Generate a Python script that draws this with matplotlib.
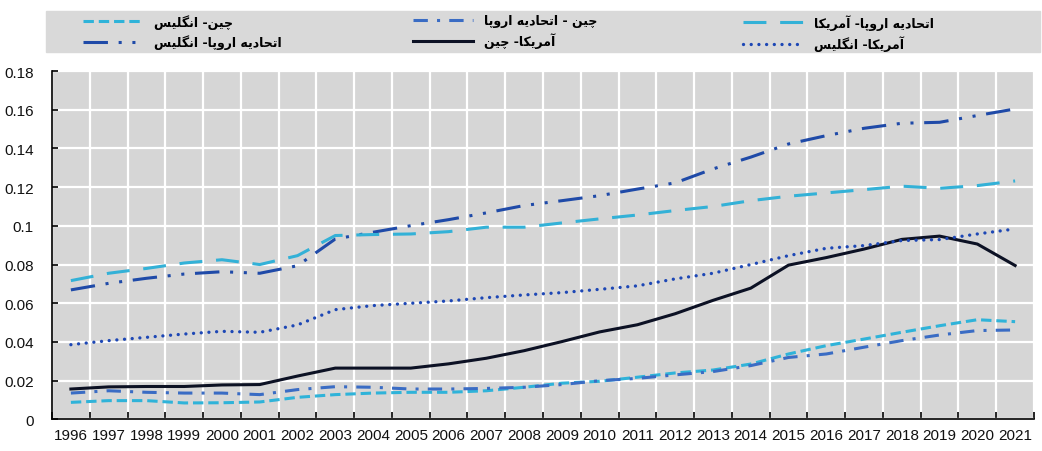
import matplotlib
matplotlib.use("Agg")
import matplotlib.pyplot as plt
from matplotlib import font_manager
from matplotlib.patches import Rectangle
from matplotlib.ticker import FixedLocator, FuncFormatter

# years on the category axis
years = list(range(1996, 2022))

# trade-share series
china_uk = [0.0088, 0.0097, 0.0097, 0.0085, 0.0086, 0.0090, 0.0114, 0.0128, 0.0136, 0.0140,
            0.0140, 0.0148, 0.0166, 0.0187, 0.0197, 0.0218, 0.0240, 0.0255, 0.0286, 0.0338,
            0.0381, 0.0415, 0.0450, 0.0484, 0.0515, 0.0505]
china_eu = [0.0136, 0.0148, 0.0140, 0.0136, 0.0136, 0.0128, 0.0154, 0.0169, 0.0166, 0.0157,
            0.0157, 0.0160, 0.0166, 0.0180, 0.0200, 0.0212, 0.0230, 0.0247, 0.0278, 0.0320,
            0.0338, 0.0373, 0.0407, 0.0436, 0.0459, 0.0462]
eu_us = [0.0717, 0.0755, 0.0780, 0.0808, 0.0825, 0.0800, 0.0846, 0.0950, 0.0955, 0.0958,
         0.0970, 0.0993, 0.0993, 0.1015, 0.1036, 0.1056, 0.1079, 0.1100, 0.1130, 0.1153,
         0.1170, 0.1187, 0.1205, 0.1194, 0.1208, 0.1232]
eu_uk = [0.0669, 0.0703, 0.0729, 0.0751, 0.0763, 0.0755, 0.0794, 0.0932, 0.0967, 0.1001,
         0.1032, 0.1067, 0.1105, 0.1130, 0.1156, 0.1190, 0.1222, 0.1294, 0.1355, 0.1423,
         0.1466, 0.1504, 0.1530, 0.1535, 0.1570, 0.1604]
us_china = [0.0157, 0.0168, 0.0170, 0.0170, 0.0178, 0.0180, 0.0224, 0.0265, 0.0265, 0.0265,
            0.0287, 0.0316, 0.0355, 0.0402, 0.0452, 0.0489, 0.0546, 0.0615, 0.0678, 0.0797,
            0.0836, 0.0880, 0.0930, 0.0947, 0.0906, 0.0795]
us_uk = [0.0386, 0.0407, 0.0424, 0.0441, 0.0455, 0.0450, 0.0488, 0.0567, 0.0588, 0.0600,
         0.0612, 0.0629, 0.0643, 0.0655, 0.0672, 0.0690, 0.0726, 0.0755, 0.0800, 0.0846,
         0.0884, 0.0898, 0.0924, 0.0929, 0.0958, 0.0984]

labels = {
    "china_uk": "چین- انگلیس",
    "eu_uk": "اتحادیه اروپا- انگلیس",
    "china_eu": "چین - اتحادیه اروپا",
    "us_china": "آمریکا- چین",
    "eu_us": "اتحادیه اروپا- آمریکا",
    "us_uk": "آمریکا- انگلیس",
}

# contextual forms: isolated, final, initial, medial
FORMS = {
    'ا': ('\uFE8D', '\uFE8E', None, None),
    'آ': ('\uFE81', '\uFE82', None, None),
    'د': ('\uFEA9', '\uFEAA', None, None),
    'ر': ('\uFEAD', '\uFEAE', None, None),
    'و': ('\uFEED', '\uFEEE', None, None),
    'ت': ('\uFE95', '\uFE96', '\uFE97', '\uFE98'),
    'ح': ('\uFEA1', '\uFEA2', '\uFEA3', '\uFEA4'),
    'س': ('\uFEB1', '\uFEB2', '\uFEB3', '\uFEB4'),
    'ل': ('\uFEDD', '\uFEDE', '\uFEDF', '\uFEE0'),
    'م': ('\uFEE1', '\uFEE2', '\uFEE3', '\uFEE4'),
    'ن': ('\uFEE5', '\uFEE6', '\uFEE7', '\uFEE8'),
    'ه': ('\uFEE9', '\uFEEA', '\uFEEB', '\uFEEC'),
    'پ': ('\uFB56', '\uFB57', '\uFB58', '\uFB59'),
    'چ': ('\uFB7A', '\uFB7B', '\uFB7C', '\uFB7D'),
    'ک': ('\uFB8E', '\uFB8F', '\uFB90', '\uFB91'),
    'گ': ('\uFB92', '\uFB93', '\uFB94', '\uFB95'),
    'ی': ('\uFBFC', '\uFBFD', '\uFBFE', '\uFBFF'),
}


def shape(s):
    # join persian letters and flip to visual order (matplotlib has no bidi)
    out = []
    for i, ch in enumerate(s):
        if ch not in FORMS:
            out.append(ch)
            continue
        prev = s[i - 1] if i > 0 else ''
        nxt = s[i + 1] if i + 1 < len(s) else ''
        iso, fin, ini, med = FORMS[ch]
        jp = prev in FORMS and FORMS[prev][2] is not None
        jn = ini is not None and nxt in FORMS
        if jp and jn:
            out.append(med)
        elif jp:
            out.append(fin)
        elif jn:
            out.append(ini)
        else:
            out.append(iso)
    return ''.join(reversed(out))


names = {f.name for f in font_manager.fontManager.ttflist}
if "Liberation Sans Narrow" in names:
    tick_font, tick_size = "Liberation Sans Narrow", 12.5
else:
    tick_font, tick_size = "Liberation Sans", 11

fig = plt.figure(figsize=(10.42, 4.52), dpi=100)
ax = fig.add_axes([52 / 1042, 1 - 420.4 / 452, (1034 - 52) / 1042, (420.4 - 72) / 452])
ax.set_facecolor("#d6d6d6")

x = list(range(len(years)))
lw = 2.2
l1, = ax.plot(x, china_uk, color="#2fb3d9", lw=lw, ls=(0, (3.4, 1.6)), label=shape(labels["china_uk"]))
l2, = ax.plot(x, eu_uk, color="#1f4aa8", lw=lw, ls=(0, (8, 3.5, 1, 3.5, 1, 3.5)), label=shape(labels["eu_uk"]))
l3, = ax.plot(x, china_eu, color="#3a6cc4", lw=lw, ls=(0, (4.7, 3, 1, 3)), label=shape(labels["china_eu"]))
l4, = ax.plot(x, us_china, color="#0c1124", lw=2.2, ls="-", label=shape(labels["us_china"]))
l5, = ax.plot(x, eu_us, color="#33b1d7", lw=lw, ls=(0, (7.5, 4.5)), label=shape(labels["eu_us"]))
l6, = ax.plot(x, us_uk, color="#1d47b5", lw=2.4, ls=(0, (0.01, 2.3)), dash_capstyle="round",
              label=shape(labels["us_uk"]))

ax.set_xlim(-0.5, len(years) - 0.5)
ax.set_ylim(0, 0.18)
ax.set_xticks(x)
ax.set_xticklabels([str(y) for y in years])
ax.xaxis.set_minor_locator(FixedLocator([i + 0.5 for i in range(-1, len(years))]))
ax.set_yticks([i * 0.02 for i in range(10)])
ax.yaxis.set_major_formatter(FuncFormatter(lambda v, p: "%g" % round(v, 2)))

ax.tick_params(axis="x", which="major", length=0, pad=6)
ax.tick_params(axis="x", which="minor", direction="in", length=5, width=1.2, color="black")
ax.tick_params(axis="y", direction="in", length=4, width=1.2, pad=13)
for lab in ax.get_xticklabels() + ax.get_yticklabels():
    lab.set_fontfamily(tick_font)
    lab.set_fontsize(tick_size)
    lab.set_color("#111111")

ax.grid(axis="x", which="minor", color="white", lw=1.6)
ax.grid(axis="y", which="major", color="white", lw=1.6)
ax.set_axisbelow(True)
for side in ["top", "right"]:
    ax.spines[side].set_visible(False)
for side in ["left", "bottom"]:
    ax.spines[side].set_linewidth(1.2)

# legend band
fig.patches.append(Rectangle((46 / 1042, 1 - 53 / 452), (1040 - 46) / 1042, 41 / 452,
                             transform=fig.transFigure, color="#d9d9d9", zorder=0))
legend_cols = [([l1, l2], 83), ([l3, l4], 413), ([l5, l6], 743)]
for hs, xpix in legend_cols:
    fig.legend(handles=hs, loc="upper left", bbox_to_anchor=(xpix / 1042, 1 - 15 / 452),
               frameon=False, borderaxespad=0, borderpad=0, handlelength=4.8,
               handletextpad=0.9, labelspacing=0.45,
               prop={"family": "DejaVu Sans", "size": 9, "weight": "bold"})

fig.savefig("out.png", dpi=100, facecolor="white")
